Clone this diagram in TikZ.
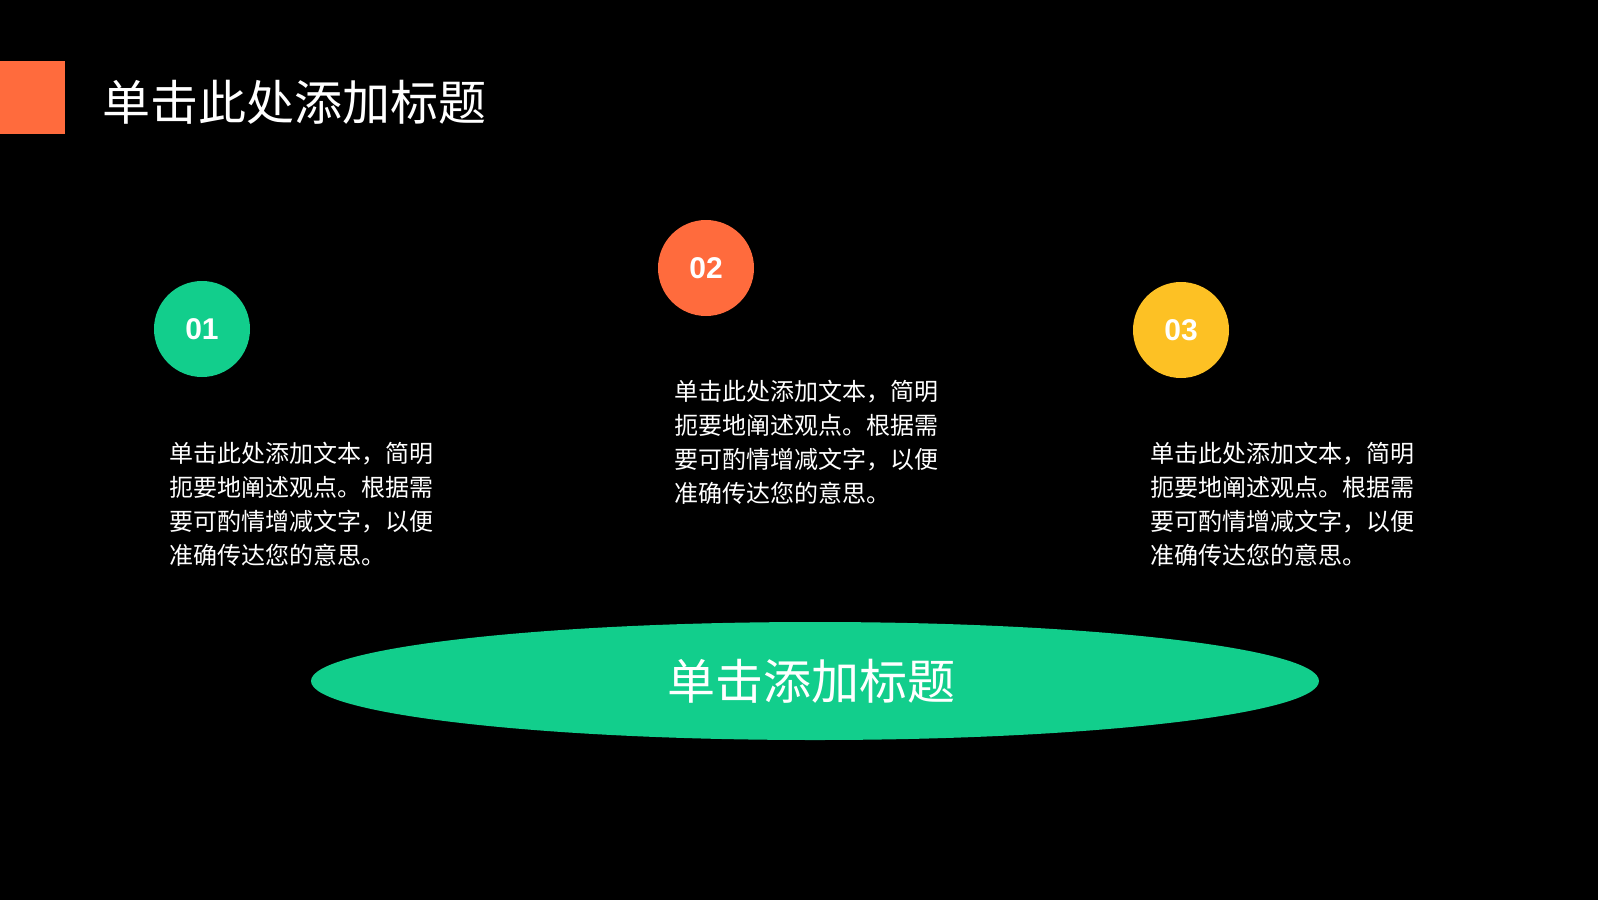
\documentclass[tikz,border=0pt]{standalone}
\usepackage{fontspec}
\setmainfont{Liberation Sans}
\newfontfamily\cjk{Noto Sans CJK SC}
\definecolor{cor}{HTML}{FF6B3D}
\definecolor{grn}{HTML}{12CE8C}
\definecolor{yel}{HTML}{FDC124}
\begin{document}
\begin{tikzpicture}[x=1pt,y=-1pt,
  num/.style={circle,minimum size=96pt,inner sep=0,text=white,font=\bfseries\fontsize{30}{30}\selectfont},
  body/.style={anchor=north west,align=left,text=white,inner sep=0,font=\cjk\fontsize{24}{34}\selectfont}]
\fill[black] (0,0) rectangle (1598,900);
\useasboundingbox (0,0) rectangle (1598,900);
\fill[cor] (0,61) rectangle (65,134);
\node[anchor=west,text=white,inner sep=0,font=\cjk\fontsize{48}{48}\selectfont] (title) at (102,102) {单击此处添加标题};
\node[num,fill=grn] (n1) at (202,329) {01};
\node[num,fill=cor] (n2) at (706,268) {02};
\node[num,fill=yel] (n3) at (1181,330) {03};
\node[body] (t1) at (169,442) {单击此处添加文本，简明\\扼要地阐述观点。根据需\\要可酌情增减文字，以便\\准确传达您的意思。};
\node[body] (t2) at (674,380) {单击此处添加文本，简明\\扼要地阐述观点。根据需\\要可酌情增减文字，以便\\准确传达您的意思。};
\node[body] (t3) at (1150,442) {单击此处添加文本，简明\\扼要地阐述观点。根据需\\要可酌情增减文字，以便\\准确传达您的意思。};
\fill[grn] (815,681) ellipse [x radius=504, y radius=59];
\node[text=white,font=\cjk\fontsize{48}{48}\selectfont] (sub) at (811,681) {单击添加标题};
\end{tikzpicture}
\end{document}
